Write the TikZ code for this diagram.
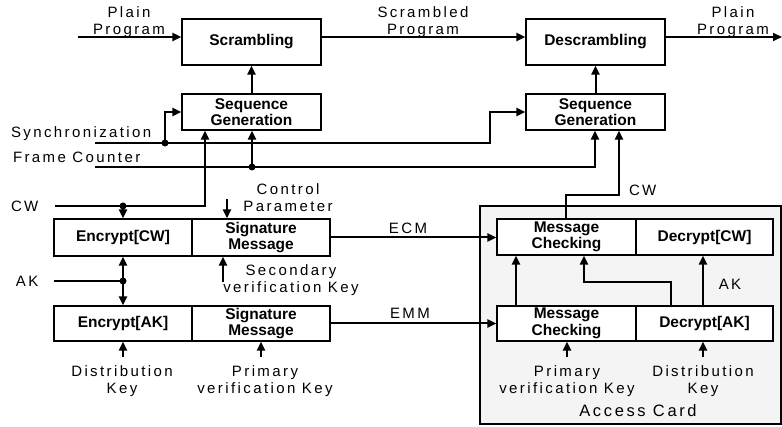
\documentclass[tikz,border=0pt]{standalone}
\usepackage{fontspec}
\setmainfont{Liberation Sans}
\newfontfamily\lblfont[LetterSpace=16]{Liberation Sans}
\usetikzlibrary{arrows.meta,calc}
\begin{document}
\begin{tikzpicture}[x=1pt,y=-1pt,
  line width=2pt,
  arr/.style={-{Triangle[length=9pt,width=8pt]}},
  blk/.style={draw,line width=1.2pt,inner sep=0pt,align=center,font=\fontsize{15.5}{16.5}\selectfont\bfseries},
  lbl/.style={align=center,inner sep=0pt,font=\fontsize{15}{17}\selectfont\lblfont},
  dot/.style={circle,fill,inner sep=0pt,minimum size=7pt}]
\useasboundingbox (0,0) rectangle (782,427);
% access card background
\draw[fill=gray!9,line width=1.5pt] (480,206) rectangle (781,424);
% blocks
\node[blk,minimum width=139pt,minimum height=46pt] (scr) at (251.5,42) {Scrambling};
\node[blk,minimum width=139pt,minimum height=46pt] (desc) at (595.5,42) {Descrambling};
\node[blk,minimum width=139pt,minimum height=36pt] (seqL) at (251.5,112) {Sequence\\Generation};
\node[blk,minimum width=139pt,minimum height=36pt] (seqR) at (595.5,112) {Sequence\\Generation};
\node[blk,minimum width=138pt,minimum height=37pt] (encCW) at (123,237.5) {Encrypt[CW]};
\node[blk,minimum width=138pt,minimum height=37pt] (sigCW) at (261,237.5) {Signature\\Message};
\node[blk,minimum width=138pt,minimum height=35pt] (encAK) at (123,323.5) {Encrypt[AK]};
\node[blk,minimum width=138pt,minimum height=35pt] (sigAK) at (261,323.5) {Signature\\Message};
\node[blk,fill=white,minimum width=139pt,minimum height=36pt] (mc1) at (566.5,237) {Message\\Checking};
\node[blk,fill=white,minimum width=137pt,minimum height=36pt] (dcw) at (704.5,237) {Decrypt[CW]};
\node[blk,fill=white,minimum width=139pt,minimum height=35pt] (mc2) at (566.5,323.5) {Message\\Checking};
\node[blk,fill=white,minimum width=137pt,minimum height=35pt] (dak) at (704.5,323.5) {Decrypt[AK]};
% labels
\node[lbl] (lpl) at (129,22) {Plain\\Program};
\node[lbl] (lsc) at (423,22) {Scrambled\\Program};
\node[lbl] (lpr) at (733,22) {Plain\\Program};
\node[lbl,anchor=west] (lsy) at (10,134) {Synchronization};
\node[lbl,anchor=west] (lfc) at (12,157) {Frame Counter};
\node[lbl,anchor=west] (lcw) at (10,206) {CW};
\node[lbl] (lcp) at (288,198) {Control\\Parameter};
\node[lbl] (lecm) at (408,228) {ECM};
\node[lbl] (lemm) at (410,313) {EMM};
\node[lbl,anchor=west] (lak) at (15,281) {AK};
\node[lbl] (lsv) at (291,280) {Secondary\\verification Key};
\node[lbl] (ldk) at (122,381) {Distribution\\Key};
\node[lbl] (lpv) at (265,381) {Primary\\verification Key};
\node[lbl] (lpv2) at (567,381) {Primary\\verification Key};
\node[lbl] (ldk2) at (703,381) {Distribution\\Key};
\node[lbl,font=\fontsize{16.5}{18}\selectfont\lblfont] (lac) at (638,411) {Access Card};
\node[lbl,anchor=west] (lcw2) at (628,190) {CW};
\node[lbl] (lak2) at (730,284) {AK};
% coordinates
\coordinate (pin) at (78,37);
\coordinate (pout) at (782,37);
\coordinate (sy0) at (95,143);
\coordinate (sy1) at (490,143);
\coordinate (syd) at (165,143);
\coordinate (fc0) at (95,167);
\coordinate (fc1) at (595,167);
\coordinate (fcd) at (252,167);
\coordinate (cw0) at (55,206);
\coordinate (cw1) at (205,206);
\coordinate (cwd) at (123,206);
\coordinate (cp0) at (227,199);
\coordinate (ak0) at (54,281);
\coordinate (akd) at (123,281);
\coordinate (sv0) at (223,282);
\coordinate (dk0) at (123,357);
\coordinate (pv0) at (261,357);
\coordinate (pv2) at (567,357);
\coordinate (dk2) at (703,357);
\coordinate (cwa) at (566,195);
\coordinate (cwb) at (619,195);
\coordinate (ia) at (671,282);
\coordinate (ib) at (584,282);
% connectors
\draw[arr] (pin) -- (scr.west |- pin);
\draw[arr] (scr.east |- pin) -- (desc.west |- pin);
\draw[arr] (desc.east |- pin) -- (pout);
\draw[arr] (seqL.north) -- (scr.south);
\draw[arr] (seqR.north) -- (desc.south);
\draw[arr] (sy0) -- (sy1) -- (sy1 |- seqR.west) -- (seqR.west);
\draw[arr] (syd) -- (syd |- seqL.west) -- (seqL.west);
\node[dot] at (syd) {};
\draw[arr] (fc0) -- (fc1) -- (fc1 |- seqR.south);
\draw[arr] (fcd) -- (fcd |- seqL.south);
\node[dot] at (fcd) {};
\draw[arr] (cw0) -- (cw1) -- (cw1 |- seqL.south);
\draw[arr] (cwd) -- (cwd |- encCW.north);
\node[dot] at (cwd) {};
\draw[arr] (cp0) -- (cp0 |- sigCW.north);
\draw[arr] (sigCW.east) -- (mc1.west |- sigCW.east);
\draw (ak0) -- (akd);
\draw[arr] (akd) -- (akd |- encCW.south);
\draw[arr] (akd) -- (akd |- encAK.north);
\node[dot] at (akd) {};
\draw[arr] (sv0) -- (sv0 |- sigCW.south);
\draw[arr] (sigAK.east) -- (mc2.west |- sigAK.east);
\draw[arr] (dk0) -- (dk0 |- encAK.south);
\draw[arr] (pv0) -- (pv0 |- sigAK.south);
\draw[arr] (pv2) -- (pv2 |- mc2.south);
\draw[arr] (dk2) -- (dk2 |- dak.south);
\draw[arr] (cwa |- mc1.north) -- (cwa) -- (cwb) -- (cwb |- seqR.south);
\draw[arr] (mc2.north -| 516,0) -- (mc1.south -| 516,0);
\draw[arr] (ia |- dak.north) -- (ia) -- (ib) -- (ib |- mc1.south);
\draw[arr] (dk2 |- dak.north) -- (dk2 |- dcw.south);
\end{tikzpicture}
\end{document}
